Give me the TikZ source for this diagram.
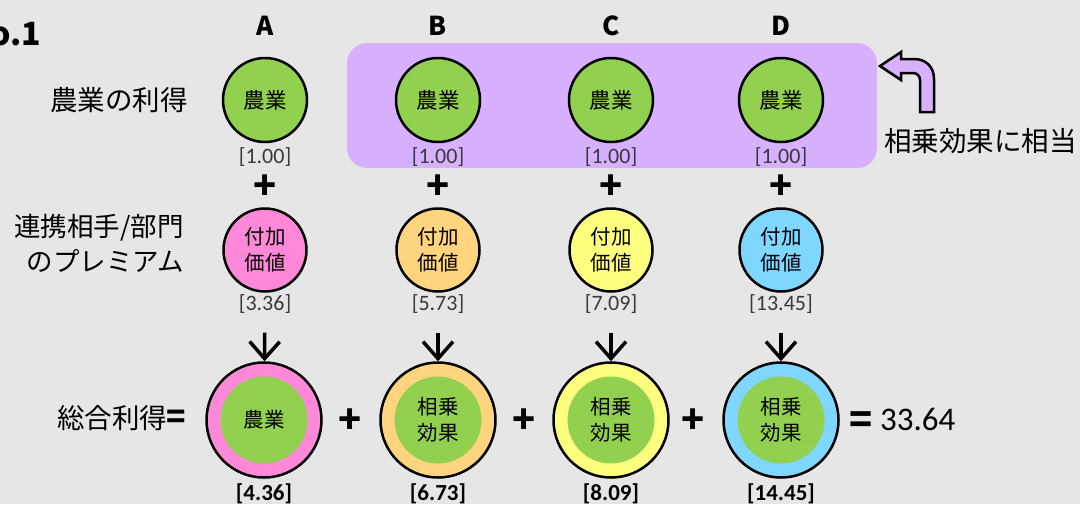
\documentclass[tikz,border=0pt]{standalone}
\usepackage{fontspec}
\setmainfont{Noto Sans CJK JP}
\newfontfamily\numfont{Carlito}
\usetikzlibrary{arrows.meta}
\definecolor{bgc}{HTML}{E6E6E6}
\definecolor{agri}{HTML}{92D050}
\definecolor{lav}{HTML}{D7B0FF}
\definecolor{cA}{HTML}{FF88D8}
\definecolor{cB}{HTML}{FFD47F}
\definecolor{cC}{HTML}{FFFF7F}
\definecolor{cD}{HTML}{7FD6FF}
\definecolor{numgray}{HTML}{3A3A3A}
\tikzset{
  topc/.style={circle,draw=black,line width=2.5pt,fill=agri,minimum size=84pt,inner sep=0pt,font=\fontsize{21.5}{26}\selectfont},
  midc/.style={circle,draw=black,line width=2.5pt,fill=#1,minimum size=83pt,inner sep=0pt,align=center,font=\fontsize{20.5}{26}\selectfont},
  botc/.style={circle,draw=black,line width=2.5pt,fill=#1,minimum size=115pt,inner sep=0pt},
  innc/.style={circle,fill=agri,minimum size=87pt,inner sep=0pt,align=center,font=\fontsize{20.5}{26}\selectfont},
  numlbl/.style={text=numgray,font=\numfont\fontsize{22}{24}\selectfont,inner sep=0pt},
  boldlbl/.style={text=black,font=\numfont\bfseries\fontsize{23}{24}\selectfont,inner sep=0pt},
  plussign/.style={font=\bfseries\fontsize{38}{38}\selectfont,inner sep=0pt,text height=28pt,text depth=0pt},
  collbl/.style={font=\bfseries\fontsize{26}{28}\selectfont,inner sep=0pt},
  rowlbl/.style={font=\fontsize{26.5}{35}\selectfont,inner sep=0pt,align=right},
  arr/.style={line width=3.5pt,-{Straight Barb[length=17pt,width=30pt]}},
}
\begin{document}
\begin{tikzpicture}[x=1pt,y=-1pt]
\useasboundingbox (0,0) rectangle (1080,504);
\fill[bgc] (0,0) rectangle (1080,504);
\begin{scope}
\clip (0,0) rectangle (1080,504);
\node[anchor=base east,font=\bfseries\fontsize{32}{32}\selectfont,inner sep=0pt] (no) at (41,45) {No.1};
\end{scope}

% purple band
\node[fill=lav,rounded corners=20pt,minimum width=530pt,minimum height=125pt,inner sep=0pt] (synbox) at (612,105.5) {};

% column letters
\node[collbl] (hA) at (265,26) {A};
\node[collbl] (hB) at (438,26) {B};
\node[collbl] (hC) at (611,26) {C};
\node[collbl] (hD) at (781,26) {D};

% row labels
\node[rowlbl,anchor=east,font=\fontsize{27.5}{35}\selectfont] (r1) at (188,100) {農業の利得};
\node[rowlbl,anchor=east] (r2) at (184,243) {連携相手/部門\\のプレミアム};
\node[rowlbl,anchor=east,font=\fontsize{27.5}{35}\selectfont] (r3) at (186,418) {総合利得\kern-1pt\textbf{\fontsize{32}{32}\selectfont =}};

% top row
\node[topc] (tA) at (265,100) {農業};
\node[topc] (tB) at (438,100) {農業};
\node[topc] (tC) at (611,100) {農業};
\node[topc] (tD) at (781,100) {農業};
\node[numlbl] (tlA) at (265,157) {[1.00]};
\node[numlbl] (tlB) at (438,157) {[1.00]};
\node[numlbl] (tlC) at (611,157) {[1.00]};
\node[numlbl] (tlD) at (781,157) {[1.00]};
\node[plussign] (pA) at (265,185) {+};
\node[plussign] (pB) at (438,185) {+};
\node[plussign] (pC) at (611,185) {+};
\node[plussign] (pD) at (781,185) {+};

% bent arrow + label
\draw[fill=lav,line width=2.5pt,line join=miter] (880,66) -- (901,52) -- (901,59) -- (914,59) .. controls (926,59) and (934,67) .. (934,79) -- (934,112) -- (920,112) -- (920,80) .. controls (920,76) and (917,73) .. (913,73) -- (901,73) -- (901,80) -- cycle;
\node[font=\fontsize{27.5}{30}\selectfont,inner sep=0pt,anchor=west] (syn) at (884,141) {相乗効果に相当};

% middle row
\node[midc=cA] (mA) at (265,250) {付加\\価値};
\node[midc=cB] (mB) at (438,250) {付加\\価値};
\node[midc=cC] (mC) at (611,250) {付加\\価値};
\node[midc=cD] (mD) at (781,250) {付加\\価値};
\node[numlbl] (mlA) at (265,304) {[3.36]};
\node[numlbl] (mlB) at (438,304) {[5.73]};
\node[numlbl] (mlC) at (611,304) {[7.09]};
\node[numlbl] (mlD) at (781,304) {[13.45]};

% bottom row
\node[botc=cA] (bA) at (264,420) {};
\node[botc=cB] (bB) at (438,420) {};
\node[botc=cC] (bC) at (611,420) {};
\node[botc=cD] (bD) at (781,420) {};
\node[innc] (iA) at (264,420) {農業};
\node[innc] (iB) at (438,420) {相乗\\効果};
\node[innc] (iC) at (611,420) {相乗\\効果};
\node[innc] (iD) at (781,420) {相乗\\効果};
\node[boldlbl] (blA) at (264,494) {[4.36]};
\node[boldlbl] (blB) at (438,494) {[6.73]};
\node[boldlbl] (blC) at (611,494) {[8.09]};
\node[boldlbl] (blD) at (781,494) {[14.45]};

\node[plussign] (bp1) at (350,419) {+};
\node[plussign] (bp2) at (524,419) {+};
\node[plussign] (bp3) at (693,419) {+};
\node[plussign] (eq) at (861,419) {=};
\node[font=\numfont\fontsize{33}{33}\selectfont,inner sep=0pt,anchor=west] (tot) at (880,419) {33.64};

% arrows
\draw[arr,shorten <=19pt] (mlA) -- (bA);
\draw[arr,shorten <=19pt] (mlB) -- (bB);
\draw[arr,shorten <=19pt] (mlC) -- (bC);
\draw[arr,shorten <=19pt] (mlD) -- (bD);
\end{tikzpicture}
\end{document}
